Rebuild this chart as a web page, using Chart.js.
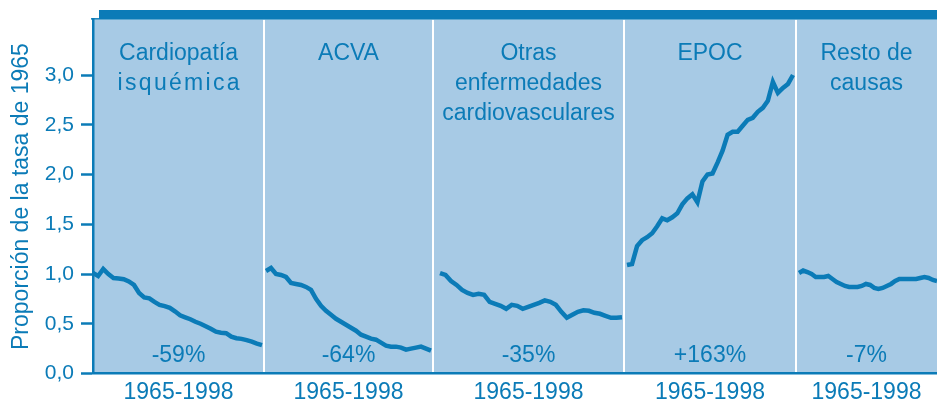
<!DOCTYPE html>
<html>
<head>
<meta charset="utf-8">
<script src="https://cdn.jsdelivr.net/npm/chart.js@4.4.1/dist/chart.umd.min.js"></script>
<style>
  html, body { margin: 0; padding: 0; background: #fff; }
</style>
</head>
<body>
<canvas id="chart" width="937" height="402"></canvas>
<script>
// datos: proporción de la tasa de 1965, años 1965-1998
const years = [1965, 1966, 1967, 1968, 1969, 1970, 1971, 1972, 1973, 1974, 1975, 1976,
  1977, 1978, 1979, 1980, 1981, 1982, 1983, 1984, 1985, 1986, 1987, 1988, 1989, 1990,
  1991, 1992, 1993, 1994, 1995, 1996, 1997, 1998];

const cardiopatia = [1.01, 0.98, 1.05, 1.00, 0.96, 0.955, 0.947, 0.925, 0.89, 0.81, 0.765, 0.755,
  0.72, 0.69, 0.677, 0.66, 0.625, 0.585, 0.565, 0.545, 0.52, 0.50, 0.475, 0.45, 0.42, 0.41,
  0.405, 0.37, 0.355, 0.348, 0.335, 0.32, 0.30, 0.285];
const acva = [1.03, 1.06, 1.00, 0.99, 0.97, 0.91, 0.90, 0.89, 0.87, 0.84, 0.75, 0.68,
  0.63, 0.59, 0.55, 0.52, 0.49, 0.46, 0.43, 0.39, 0.37, 0.35, 0.34, 0.31, 0.28, 0.27,
  0.27, 0.26, 0.24, 0.25, 0.26, 0.27, 0.25, 0.23];
const otras = [1.01, 0.99, 0.93, 0.89, 0.84, 0.81, 0.79, 0.80, 0.79, 0.72, 0.70, 0.68,
  0.65, 0.69, 0.68, 0.65, 0.67, 0.69, 0.71, 0.735, 0.72, 0.69, 0.62, 0.56, 0.59, 0.62,
  0.635, 0.63, 0.61, 0.60, 0.58, 0.56, 0.56, 0.565];
const epoc = [1.09, 1.10, 1.28, 1.34, 1.37, 1.41, 1.48, 1.56, 1.54, 1.57, 1.61, 1.70,
  1.76, 1.80, 1.72, 1.93, 2.00, 2.01, 2.12, 2.24, 2.40, 2.43, 2.43, 2.49, 2.55, 2.57,
  2.63, 2.67, 2.74, 2.93, 2.82, 2.87, 2.91, 3.00];
const resto = [1.01, 1.035, 1.02, 1.00, 0.97, 0.97, 0.97, 0.98, 0.95, 0.92, 0.90, 0.88,
  0.87, 0.87, 0.87, 0.88, 0.90, 0.89, 0.86, 0.85, 0.86, 0.88, 0.90, 0.93, 0.95, 0.95,
  0.95, 0.95, 0.95, 0.96, 0.97, 0.96, 0.94, 0.93];

const series = [cardiopatia, acva, otras, epoc, resto];
const panelTitles = [['Cardiopatía', 'isquémica'], ['ACVA'], ['Otras', 'enfermedades', 'cardiovasculares'], ['EPOC'], ['Resto de', 'causas']];
const changeLabels = ['-59%', '-64%', '-35%', '+163%', '-7%'];
const periodLabel = '1965-1998';
const yTicks = [0, 0.5, 1, 1.5, 2, 2.5, 3];

// maquetación de los paneles (unidades del eje x)
const panelEdges = [0, 171, 340, 531, 703, 844];
const lineSpans = [[0, 169], [173, 338], [347, 529], [534, 700], [706, 844]];

const BLUE = '#0b7bb7';
const PANEL_BG = '#a7cae5';
const FONT = "'Liberation Sans', Arial, sans-serif";

const firstYear = years[0], lastYear = years[years.length - 1];

const datasets = series.map((vals, p) => ({
  data: vals.map((v, i) => ({
    x: lineSpans[p][0] + (years[i] - firstYear) / (lastYear - firstYear) * (lineSpans[p][1] - lineSpans[p][0]),
    y: v
  })),
  borderColor: BLUE,
  borderWidth: 4.5,
  pointRadius: 0,
  tension: 0,
  fill: false
}));

const panelCenters = panelEdges.slice(0, -1).map((e, i) => (e + panelEdges[i + 1]) / 2);

// fondo, separadores y textos de cada panel
const panelsPlugin = {
  id: 'panels',
  beforeDraw(chart) {
    const { ctx, chartArea: a, scales: { x } } = chart;
    ctx.save();
    ctx.fillStyle = PANEL_BG;
    ctx.fillRect(a.left, a.top, a.right - a.left, a.bottom - a.top);

    ctx.strokeStyle = '#fff';
    ctx.lineWidth = 2;
    panelEdges.slice(1, -1).forEach(e => {
      const px = Math.round(x.getPixelForValue(e));
      ctx.beginPath();
      ctx.moveTo(px, a.top);
      ctx.lineTo(px, a.bottom);
      ctx.stroke();
    });

    // marco superior
    ctx.fillStyle = BLUE;
    ctx.fillRect(a.left - 2, a.top - 1.5, a.right - a.left + 2, 1.5);
    ctx.fillRect(99, 10, a.right - 99, 9);

    ctx.font = '23px ' + FONT;
    ctx.textAlign = 'center';
    ctx.textBaseline = 'alphabetic';
    ctx.fillStyle = BLUE;
    panelTitles.forEach((lines, p) => {
      const cx = x.getPixelForValue(panelCenters[p]);
      lines.forEach((t, j) => {
        const spaced = t === 'isquémica';
        ctx.letterSpacing = spaced ? '2.3px' : '0px';
        ctx.fillText(t, cx + (spaced ? 1.2 : 0), 60 + j * 30);
      });
    });
    ctx.letterSpacing = '0px';
    changeLabels.forEach((t, p) => {
      ctx.fillText(t, x.getPixelForValue(panelCenters[p]), 362);
    });
    ctx.restore();
  }
};

new Chart(document.getElementById('chart'), {
  type: 'line',
  data: { datasets },
  options: {
    responsive: false,
    animation: false,
    layout: { padding: { top: 19, right: 0, left: 0, bottom: 0 } },
    plugins: { legend: { display: false }, tooltip: { enabled: false } },
    scales: {
      x: {
        type: 'linear',
        min: panelEdges[0],
        max: panelEdges[panelEdges.length - 1],
        afterFit: s => { s.height = 28.5; },
        afterBuildTicks: s => { s.ticks = panelCenters.map(v => ({ value: v })); },
        grid: { display: false },
        border: { display: true, color: BLUE, width: 2.5 },
        ticks: {
          autoSkip: false,
          maxRotation: 0,
          padding: -3,
          color: BLUE,
          font: { family: FONT, size: 23 },
          callback: () => periodLabel
        }
      },
      y: {
        min: 0,
        max: 3.557,
        afterFit: s => { s.width = 93; },
        afterBuildTicks: s => { s.ticks = yTicks.map(v => ({ value: v })); },
        grid: { display: true, drawOnChartArea: false, drawTicks: true, tickLength: 12, tickColor: BLUE, tickWidth: 2.5 },
        border: { display: true, color: BLUE, width: 2.5 },
        ticks: {
          padding: 7,
          color: BLUE,
          font: { family: FONT, size: 21 },
          callback: v => v.toFixed(1).replace('.', ',')
        },
        title: {
          display: true,
          text: 'Proporción de la tasa de 1965',
          color: BLUE,
          font: { family: FONT, size: 23 },
          padding: { top: 8, bottom: 0 }
        }
      }
    }
  },
  plugins: [panelsPlugin]
});
</script>
</body>
</html>
